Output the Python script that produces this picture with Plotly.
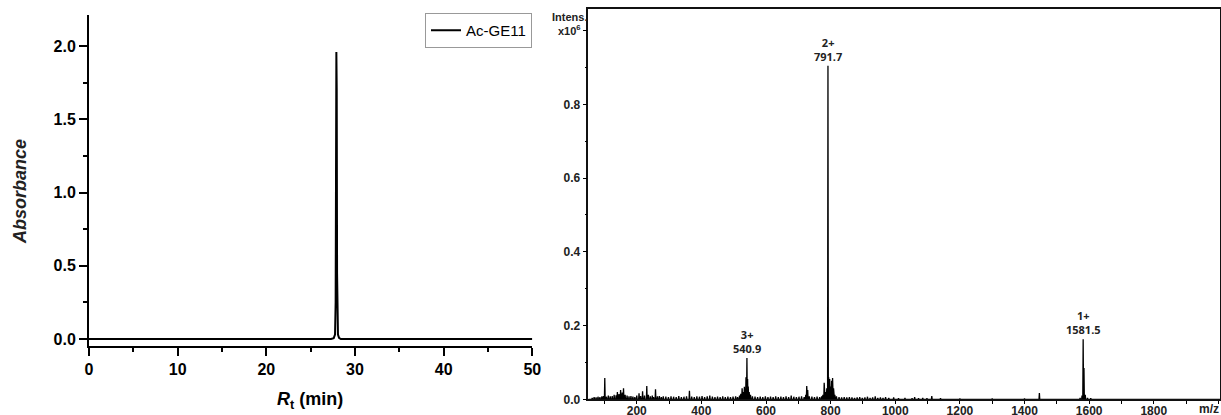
import plotly.graph_objects as go

# HPLC trace (retention time in min, absorbance)
hplc_time = [0.0, 27.3, 27.6, 27.75, 27.82, 27.87, 27.9, 27.94, 27.98, 28.02, 28.08, 28.2, 28.4, 50.0]
hplc_abs = [0.0, 0.0, 0.006, 0.03, 0.25, 1.30, 1.96, 1.70, 0.45, 0.10, 0.03, 0.008, 0.0, 0.0]

# ESI-MS centroid list (m/z, intensity x10^6)
ms_mz = [62, 68, 74, 80, 86, 92, 97, 101, 106, 112, 118, 124, 130, 136, 140, 145, 150, 155, 159, 164,
         170, 176, 182, 188, 194, 200, 207, 212, 218, 224, 231, 236, 242, 248, 252, 258, 264, 270, 276,
         282, 290, 298, 306, 314, 322, 330, 338, 346, 354, 363, 370, 378, 386, 394, 402, 410, 418, 426,
         434, 442, 450, 458, 466, 474, 482, 490, 498, 506, 512, 518, 522, 526, 529, 533, 536, 538, 540.9,
         543, 545, 548, 552, 558, 566, 574, 582, 590, 598, 606, 614, 622, 630, 638, 646, 654, 662, 670,
         678, 686, 694, 702, 710, 718, 723, 726, 729, 734, 742, 750, 758, 766, 772, 776, 780, 784, 788,
         791.7, 794, 797, 800, 803, 806, 809, 813, 818, 826, 834, 842, 850, 858, 866, 874, 882, 890,
         898, 906, 914, 922, 930, 938, 946, 954, 962, 970, 980, 995, 1010, 1030, 1052, 1060, 1072, 1085,
         1098, 1113, 1140, 1200, 1300, 1400, 1446, 1500, 1560, 1572, 1578, 1581.5, 1584, 1588, 1595, 1605]
ms_int = [0.004, 0.006, 0.005, 0.007, 0.006, 0.008, 0.009, 0.058, 0.007, 0.010, 0.008, 0.009, 0.012, 0.011,
          0.020, 0.014, 0.025, 0.018, 0.030, 0.012, 0.010, 0.008, 0.009, 0.007, 0.006, 0.010, 0.016, 0.009,
          0.022, 0.010, 0.036, 0.012, 0.008, 0.010, 0.006, 0.027, 0.008, 0.009, 0.006, 0.008, 0.007, 0.006,
          0.008, 0.007, 0.006, 0.009, 0.006, 0.007, 0.008, 0.023, 0.007, 0.006, 0.008, 0.007, 0.009, 0.006,
          0.008, 0.010, 0.007, 0.006, 0.007, 0.006, 0.008, 0.006, 0.007, 0.006, 0.007, 0.008, 0.006, 0.010,
          0.015, 0.030, 0.020, 0.034, 0.028, 0.060, 0.112,
          0.055, 0.035, 0.020, 0.012, 0.008, 0.007, 0.006, 0.007, 0.006, 0.008, 0.006, 0.007, 0.006, 0.008,
          0.006, 0.007, 0.006, 0.008, 0.006,
          0.010, 0.007, 0.006, 0.007, 0.008, 0.006, 0.012, 0.036, 0.025, 0.008, 0.007, 0.006, 0.007, 0.006,
          0.008, 0.012, 0.045, 0.020, 0.030,
          0.905, 0.060, 0.055, 0.035, 0.050, 0.058, 0.030, 0.012, 0.008, 0.006, 0.005, 0.006, 0.005, 0.006,
          0.005, 0.004, 0.005, 0.006,
          0.004, 0.005, 0.007, 0.004, 0.005, 0.008, 0.004, 0.005, 0.004, 0.006, 0.004, 0.005, 0.003, 0.004,
          0.003, 0.006, 0.003, 0.004,
          0.003, 0.009, 0.003, 0.002, 0.002, 0.002, 0.017, 0.002, 0.002, 0.004, 0.010, 0.163, 0.085, 0.012,
          0.004, 0.003]
assert len(ms_mz) == len(ms_int)

# charge-state labels for the main ions
ion_labels = ["3+<br>540.9", "2+<br>791.7", "1+<br>1581.5"]
ion_mz = [540.9, 791.7, 1581.5]
ion_int = [0.112, 0.905, 0.163]

hplc_ticks = [0, 10, 20, 30, 40, 50]
abs_ticks = [0.0, 0.5, 1.0, 1.5, 2.0]
mz_ticks = [200, 400, 600, 800, 1000, 1200, 1400, 1600, 1800]
int_ticks = [0.0, 0.2, 0.4, 0.6, 0.8]

# stick spectrum drawn as narrow profile peaks on a zero baseline
prof_x, prof_y = [50], [0.0]
for m, h in zip(ms_mz, ms_int):
    prof_x += [m - 1.2, m, m + 1.2]
    prof_y += [0.0, h, 0.0]
prof_x.append(2005)
prof_y.append(0.0)

W, H = 1221, 415
font = "Liberation Sans, Arial, sans-serif"

fig = go.Figure()
fig.add_trace(go.Scatter(x=hplc_time, y=hplc_abs, mode="lines", name="Ac-GE11",
                         line=dict(color="black", width=2), xaxis="x", yaxis="y"))
fig.add_trace(go.Scatter(x=prof_x, y=prof_y, mode="lines", showlegend=False,
                         line=dict(color="black", width=1.3), xaxis="x2", yaxis="y2"))

bold_tick = dict(family=font, size=16, color="black", weight="bold")
small_tick = dict(family=font, size=12, color="#222", weight="bold")

fig.update_layout(
    width=W, height=H, margin=dict(l=0, r=0, t=0, b=0, autoexpand=False),
    paper_bgcolor="white", plot_bgcolor="white",
    showlegend=True,
    legend=dict(x=532 / W, xanchor="right", y=1 - 13 / H, yanchor="top",
                bordercolor="#999", borderwidth=1, bgcolor="white",
                font=dict(family=font, size=15, color="black"),
                itemwidth=30, tracegroupgap=0),
    xaxis=dict(domain=[89 / W, 532.3 / W], range=[0, 50], anchor="y", automargin=False,
               showline=True, linecolor="black", linewidth=2, showgrid=False, zeroline=False,
               tickvals=hplc_ticks, ticks="outside", ticklen=8, tickwidth=2, tickcolor="black",
               minor=dict(dtick=5, ticks="outside", ticklen=4, tickwidth=2, tickcolor="black"),
               tickfont=bold_tick),
    yaxis=dict(domain=[1 - 346 / H, 1 - 15 / H], range=[-0.048, 2.212], anchor="x", automargin=False,
               showline=True, linecolor="black", linewidth=2, showgrid=False, zeroline=False,
               tickvals=abs_ticks, ticktext=["0.0", "0.5", "1.0", "1.5", "2.0"],
               ticks="outside", ticklen=8, tickwidth=2, tickcolor="black",
               minor=dict(dtick=0.25, ticks="outside", ticklen=4, tickwidth=2, tickcolor="black"),
               tickfont=bold_tick),
    xaxis2=dict(domain=[588.3 / W, 1220 / W], range=[50, 2005], anchor="y2", automargin=False,
                showline=True, mirror=True, linecolor="#111", linewidth=1.5,
                showgrid=False, zeroline=False,
                tickvals=mz_ticks, ticks="outside", ticklen=3, tickwidth=1, tickcolor="black",
                ticklabelstandoff=-3,
                minor=dict(dtick=100, tick0=0, ticks="outside", ticklen=3, tickwidth=1, tickcolor="black"),
                tickfont=small_tick),
    yaxis2=dict(domain=[1 - 399.3 / H, 1 - 9.3 / H], range=[0.0, 1.058], anchor="x2", automargin=False,
                showline=True, mirror=True, linecolor="#111", linewidth=1.5,
                showgrid=False, zeroline=False,
                tickvals=int_ticks + [1.0], ticktext=["0.0", "0.2", "0.4", "0.6", "0.8", ""],
                ticks="outside", ticklen=4, tickwidth=1, tickcolor="black",
                minor=dict(dtick=0.1, ticks="outside", ticklen=2, tickwidth=1, tickcolor="black"),
                tickfont=small_tick),
)

annotations = [
    dict(text="<b><i>Absorbance</i></b>", x=20 / W, y=1 - 192 / H, xref="paper", yref="paper",
         xanchor="center", yanchor="middle",
         textangle=-90, showarrow=False, font=dict(family=font, size=18, color="#222")),
    dict(text="<b><i>R</i><sub>t</sub> (min)</b>", x=310 / W, y=1 - 400 / H, xref="paper", yref="paper",
         xanchor="center", yanchor="middle",
         showarrow=False, font=dict(family=font, size=18, color="black")),
    dict(text="<b>Intens.</b>", x=589 / W, y=1 - 17 / H, xref="paper", yref="paper",
         xanchor="right", yanchor="middle", showarrow=False, font=dict(family=font, size=11, color="#222")),
    dict(text="<b>x10<sup>6</sup></b>", x=583 / W, y=1 - 30 / H, xref="paper", yref="paper",
         xanchor="right", yanchor="middle", showarrow=False, font=dict(family=font, size=11, color="#222")),
    dict(text="<b>m/z</b>", x=1209 / W, y=1 - 409 / H, xref="paper", yref="paper",
         xanchor="center", yanchor="middle",
         showarrow=False, font=dict(family=font, size=12, color="#222")),
]
for lab, m, h in zip(ion_labels, ion_mz, ion_int):
    annotations.append(dict(text="<b>" + lab + "</b>", x=m, y=h, xref="x2", yref="y2",
                            xanchor="center", yanchor="bottom", showarrow=False, yshift=0,
                            font=dict(family="Open Sans, DejaVu Sans, sans-serif", size=11, color="#222")))
fig.update_layout(annotations=annotations)

fig.write_html("out.html")
